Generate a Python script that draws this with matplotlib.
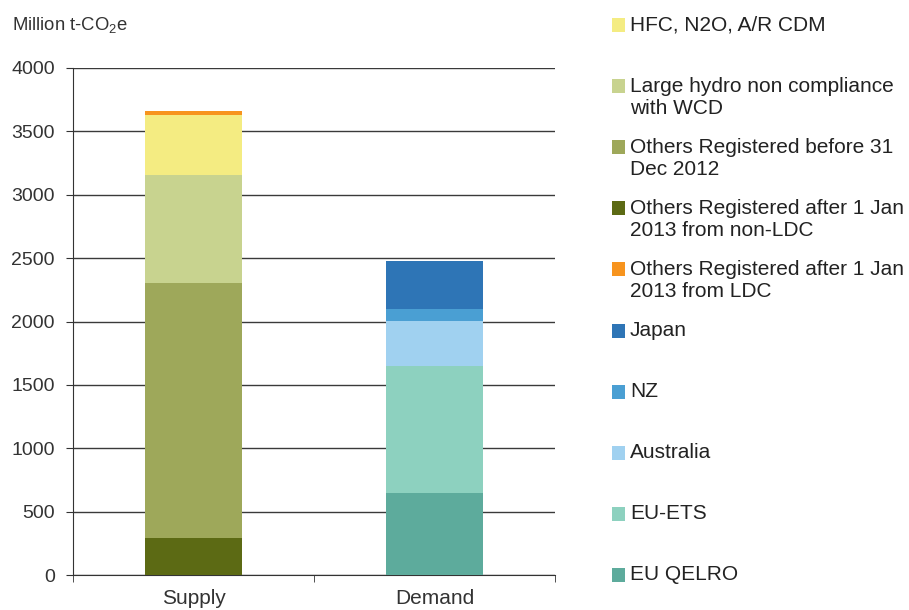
import numpy as np
import matplotlib.pyplot as plt
from matplotlib.patches import Rectangle

plt.rcParams["font.family"] = ["Liberation Sans", "DejaVu Sans"]
plt.rcParams["mathtext.fontset"] = "custom"
plt.rcParams["mathtext.rm"] = "Liberation Sans"
plt.rcParams["mathtext.it"] = "Liberation Sans"

# Categories and stacked segments (Million t-CO2e), bottom to top
categories = ["Supply", "Demand"]

supply_labels = ["Others Registered after 1 Jan\n2013 from non-LDC",
                 "Others Registered before 31\nDec 2012",
                 "Large hydro non compliance\nwith WCD",
                 "HFC, N2O, A/R CDM",
                 "Others Registered after 1 Jan\n2013 from LDC"]
supply_values = [292, 2008, 858, 474, 30]
supply_colors = ["#5c6a14", "#9ea85a", "#c8d38f", "#f4ec82", "#f7941e"]

demand_labels = ["EU QELRO", "EU-ETS", "Australia", "NZ", "Japan"]
demand_values = [645, 1004, 357, 95, 376]
demand_colors = ["#5dab9c", "#8dd1bf", "#a0d1f0", "#4a9fd3", "#2e75b6"]

# legend order, top to bottom (indices into the lists above)
supply_legend_order = [3, 2, 1, 0, 4]
demand_legend_order = [4, 3, 2, 1, 0]

fig = plt.figure(figsize=(9.09, 6.10), dpi=100)
ax = fig.add_axes([73 / 909, 1 - 575 / 610, (555 - 73) / 909, (575 - 68) / 610])

bar_w = 0.4
for x, values, colors in [(0, supply_values, supply_colors),
                          (1, demand_values, demand_colors)]:
    bottom = 0
    for v, c in zip(values, colors):
        ax.bar(x, v, bar_w, bottom=bottom, color=c, linewidth=0, zorder=3)
        bottom += v

ax.set_xlim(-0.5, 1.5)
ax.set_ylim(0, 4000)
ax.set_yticks(np.arange(0, 4001, 500))
ax.yaxis.grid(True, color="#3a3a3a", linewidth=1, zorder=0)
ax.set_xticks([0, 1])
ax.set_xticklabels(categories)
ax.set_xticks([-0.5, 0.5, 1.5], minor=True)
ax.tick_params(axis="x", which="major", length=0, pad=10, labelsize=15, labelcolor="#333333")
ax.tick_params(axis="x", which="minor", length=5, color="#333333")
ax.tick_params(axis="y", length=5, pad=8, labelsize=14, labelcolor="#333333", color="#333333")
for s in ["top", "right"]:
    ax.spines[s].set_visible(False)
ax.spines["left"].set_color("#333333")
ax.spines["bottom"].set_color("#333333")

fig.text(12 / 909, 1 - 25 / 610, "Million t-CO$_2$e", fontsize=13.3, color="#333333",
         ha="left", va="center")

# Legend drawn at fixed slots on the right
entries = [(supply_labels[i], supply_colors[i]) for i in supply_legend_order] + \
          [(demand_labels[i], demand_colors[i]) for i in demand_legend_order]
step = (575 - 25) / (len(entries) - 1)
for i, (lbl, c) in enumerate(entries):
    yc = 25 + i * step
    fig.patches.append(Rectangle((612 / 909, 1 - (yc + 7) / 610), 13 / 909, 14 / 610,
                                 transform=fig.transFigure, facecolor=c, edgecolor="none"))
    fig.text(630 / 909, 1 - (yc - 9.5) / 610, lbl, fontsize=15, color="#222222",
             ha="left", va="top", linespacing=1.22)

fig.savefig("out.png", dpi=100)
